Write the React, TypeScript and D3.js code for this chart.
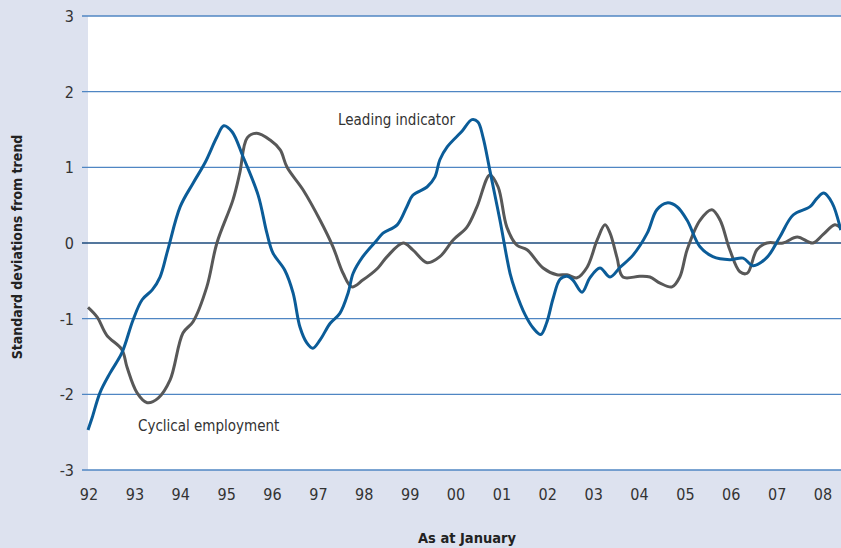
import React, { useEffect, useRef } from "react";
import * as d3 from "d3";

// Leading indicator, decimal year / standard deviations
const leadingYears = [
  1992.0, 1992.09, 1992.26, 1992.48, 1992.74, 1992.98, 1993.18, 1993.4, 1993.57, 1993.74,
  1994.01, 1994.29, 1994.55, 1994.81, 1994.96, 1995.14, 1995.38, 1995.71, 1995.9, 1996.03,
  1996.29, 1996.47, 1996.62, 1996.77, 1996.9, 1997.06, 1997.28, 1997.49, 1997.67, 1997.78,
  1997.99, 1998.3, 1998.43, 1998.74, 1998.95, 1999.08, 1999.39, 1999.56, 1999.67, 1999.83,
  2000.11, 2000.17, 2000.37, 2000.5, 2000.61, 2000.76, 2000.98, 2001.2, 2001.31, 2001.53,
  2001.7, 2001.87, 2002.0, 2002.14, 2002.29, 2002.44, 2002.57, 2002.77, 2002.94, 2003.16,
  2003.38, 2003.6, 2003.88, 2004.19, 2004.4, 2004.62, 2004.84, 2005.06, 2005.34, 2005.62,
  2005.99, 2006.28, 2006.5, 2006.8, 2007.08, 2007.37, 2007.74, 2007.89, 2008.04, 2008.22,
  2008.41,
];
const leadingValues = [
  -2.47, -2.31, -1.98, -1.72, -1.45, -1.02, -0.75, -0.62, -0.45, -0.09,
  0.48, 0.79, 1.06, 1.4, 1.55, 1.47, 1.14, 0.63, 0.13, -0.13,
  -0.36, -0.66, -1.11, -1.32, -1.39, -1.28, -1.06, -0.93, -0.66, -0.4,
  -0.18, 0.04, 0.13, 0.24, 0.48, 0.63, 0.74, 0.87, 1.1, 1.27,
  1.45, 1.49, 1.63, 1.6, 1.4, 0.96, 0.3, -0.4, -0.62, -0.95,
  -1.12, -1.21, -1.05, -0.73, -0.48, -0.44, -0.49, -0.65, -0.46, -0.33,
  -0.45, -0.32, -0.16, 0.13, 0.44, 0.53, 0.48, 0.3, -0.05, -0.18,
  -0.22, -0.2, -0.3, -0.19, 0.08, 0.37, 0.48, 0.59, 0.66, 0.53,
  0.17,
];

// Cyclical employment
const employYears = [
  1992.0, 1992.2, 1992.41, 1992.74, 1992.85, 1993.07, 1993.29, 1993.53, 1993.79, 1994.07,
  1994.29, 1994.59, 1994.81, 1995.16, 1995.31, 1995.47, 1995.68, 1995.97, 1996.19, 1996.34,
  1996.69, 1997.06, 1997.34, 1997.56, 1997.75, 1997.99, 1998.32, 1998.52, 1998.87, 1999.08,
  1999.39, 1999.67, 1999.96, 2000.26, 2000.48, 2000.76, 2000.94, 2001.13, 2001.35, 2001.57,
  2001.92, 2002.22, 2002.44, 2002.66, 2002.88, 2003.1, 2003.27, 2003.38, 2003.53, 2003.66,
  2004.03, 2004.25, 2004.47, 2004.73, 2004.9, 2005.06, 2005.34, 2005.6, 2005.78, 2005.99,
  2006.21, 2006.37, 2006.58, 2006.8, 2007.15, 2007.46, 2007.8, 2008.02, 2008.28, 2008.41,
];
const employValues = [
  -0.85, -0.98, -1.22, -1.41, -1.64, -1.98, -2.11, -2.05, -1.81, -1.19,
  -1.04, -0.58, 0.0, 0.57, 0.93, 1.39, 1.45, 1.36, 1.23, 1.0,
  0.7, 0.3, -0.05, -0.4, -0.58, -0.49, -0.33, -0.18, 0.0, -0.09,
  -0.26, -0.18, 0.04, 0.21, 0.48, 0.9, 0.74, 0.21, -0.03, -0.09,
  -0.33, -0.42, -0.42, -0.46, -0.32, 0.04, 0.24, 0.13, -0.19, -0.45,
  -0.44, -0.45, -0.53, -0.58, -0.45, -0.09, 0.3, 0.44, 0.3, -0.09,
  -0.38, -0.4, -0.09, 0.0, 0.0, 0.08, 0.0, 0.11, 0.24, 0.2,
];

const yearTicks = d3.range(1992, 2009);
const valueTicks = [-3, -2, -1, 0, 1, 2, 3];

const W = 841;
const H = 548;
const FONT = "'Liberation Sans Narrow', 'DejaVu Sans Condensed', 'Liberation Sans', sans-serif";

const App: React.FC = () => {
  const svgRef = useRef<SVGSVGElement>(null);

  useEffect(() => {
    if (!svgRef.current) return;
    const svg = d3.select(svgRef.current);
    svg.selectAll("*").remove();

    const left = 88;
    const right = 841;
    const top = 16;
    const bottom = 470;

    const x = d3
      .scaleLinear()
      .domain([1992, 1992 + (right - left) / 45.875])
      .range([left, right]);
    const y = d3.scaleLinear().domain([-3, 3]).range([bottom, top]);

    svg.append("rect").attr("width", W).attr("height", H).attr("fill", "#dde2ef");
    svg
      .append("rect")
      .attr("x", left)
      .attr("y", top)
      .attr("width", right - left)
      .attr("height", bottom - top)
      .attr("fill", "#ffffff");

    // grid lines
    svg
      .append("g")
      .selectAll("line")
      .data(valueTicks)
      .join("line")
      .attr("x1", left - 6)
      .attr("x2", right)
      .attr("y1", (d) => y(d))
      .attr("y2", (d) => y(d))
      .attr("stroke", (d) => (d === 0 ? "#1b4a7c" : "#4f86c3"))
      .attr("stroke-width", 1.3);

    svg
      .append("g")
      .selectAll("text")
      .data(valueTicks)
      .join("text")
      .attr("x", 74)
      .attr("y", (d) => y(d) + 6)
      .attr("text-anchor", "end")
      .style("font-family", FONT)
      .style("font-size", "16px")
      .attr("fill", "#333")
      .text((d) => String(d));

    svg
      .append("g")
      .selectAll("text")
      .data(yearTicks)
      .join("text")
      .attr("x", (d) => x(d) + 1)
      .attr("y", 500)
      .attr("text-anchor", "middle")
      .style("font-family", FONT)
      .style("font-size", "16px")
      .attr("fill", "#333")
      .text((d) => String(d % 100).padStart(2, "0"));

    svg
      .append("clipPath")
      .attr("id", "plot-clip")
      .append("rect")
      .attr("x", left - 3)
      .attr("y", 0)
      .attr("width", right - left + 3)
      .attr("height", H);

    const line = d3
      .line<[number, number]>()
      .x((d) => x(d[0]))
      .y((d) => y(d[1]))
      .curve(d3.curveCatmullRom.alpha(0.5));

    const employ = employYears.map((t, i) => [t, employValues[i]] as [number, number]);
    const leading = leadingYears.map((t, i) => [t, leadingValues[i]] as [number, number]);

    const g = svg.append("g").attr("clip-path", "url(#plot-clip)");
    g.append("path")
      .attr("d", line(employ))
      .attr("fill", "none")
      .attr("stroke", "#585858")
      .attr("stroke-width", 3);
    g.append("path")
      .attr("d", line(leading))
      .attr("fill", "none")
      .attr("stroke", "#0b5c98")
      .attr("stroke-width", 3);

    svg
      .append("text")
      .attr("x", 338)
      .attr("y", 125)
      .style("font-family", FONT)
      .style("font-size", "15px")
      .attr("fill", "#333")
      .text("Leading indicator");

    svg
      .append("text")
      .attr("x", 138)
      .attr("y", 431)
      .style("font-family", FONT)
      .style("font-size", "15px")
      .attr("fill", "#333")
      .text("Cyclical employment");

    svg
      .append("text")
      .attr("transform", `translate(22,${(top + bottom) / 2 + 4}) rotate(-90)`)
      .attr("text-anchor", "middle")
      .style("font-family", FONT)
      .style("font-size", "14px")
      .style("font-weight", "bold")
      .attr("fill", "#222")
      .text("Standard deviations from trend");

    svg
      .append("text")
      .attr("x", 467)
      .attr("y", 543)
      .attr("text-anchor", "middle")
      .style("font-family", FONT)
      .style("font-size", "14.5px")
      .style("font-weight", "bold")
      .attr("fill", "#222")
      .text("As at January");
  }, []);

  return (
    <svg
      ref={svgRef}
      width={W}
      height={H}
      style={{ position: "absolute", left: 0, top: 0, display: "block" }}
    />
  );
};

export default App;
